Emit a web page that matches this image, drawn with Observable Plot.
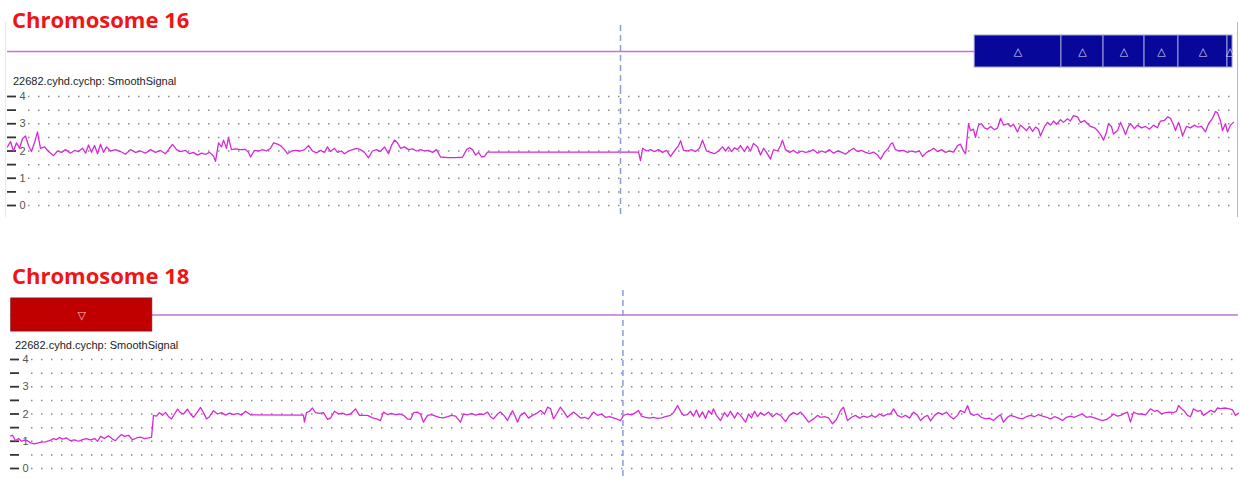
<!DOCTYPE html>
<html><head><meta charset="utf-8">
<script src="https://cdn.jsdelivr.net/npm/d3@7"></script>
<script src="https://cdn.jsdelivr.net/npm/@observablehq/plot@0.6"></script>
<style>
body{margin:0;background:#fff;}
#root{position:relative;width:1240px;height:479px;overflow:hidden;}
.title{position:absolute;left:12px;font:700 22px "Open Sans",sans-serif;line-height:22px;color:#f01414;white-space:nowrap;}
.lab{position:absolute;font:11px "Liberation Sans",Arial,sans-serif;line-height:11px;color:#222;white-space:nowrap;}
.abs{position:absolute;left:0;}
.abs svg{display:block;}
.frame{position:absolute;border-left:1px solid #e8e8e8;border-right:1px solid #b9b9b9;}
</style></head><body><div id="root"></div>
<script>
// ---- data (positions in Mb, SmoothSignal copy number) ----
const titles = ["Chromosome 16", "Chromosome 18"];
const trackLabel = "22682.cyhd.cychp: SmoothSignal";
const gridTicks = [0, 0.5, 1, 1.5, 2, 2.5, 3, 3.5, 4];
const tickLabels = [0, 1, 2, 3, 4];
const chr16Length = 90, chr18Length = 78;
const chr16Centromere = [45.0], chr18Centromere = [38.9];
const chr16GainStart = [71.0, 77.37, 80.46, 83.47, 85.96, 89.56];
const chr16GainEnd   = [77.37, 80.46, 83.47, 85.96, 89.56, 89.93];
const chr18LossStart = [0.05];
const chr18LossEnd   = [9.0];

const chr16Signal = [
[0.00,2.15],[0.22,2.35],[0.44,2.0],[0.66,2.3],[0.88,2.1],[1.10,2.45],[1.32,2.55],[1.54,2.2],[1.76,1.98],[1.98,2.3],
[2.20,2.7],[2.42,2.1],[2.72,2.15],[3.01,1.98],[3.38,1.83],[3.67,2.0],[3.96,1.95],[4.26,2.05],[4.62,1.92],[4.92,2.02],
[5.21,1.98],[5.51,2.1],[5.73,1.92],[5.95,2.22],[6.17,1.95],[6.39,2.2],[6.61,1.9],[6.83,2.25],[7.05,1.95],[7.27,2.15],
[7.56,2.0],[7.93,2.05],[8.30,1.98],[8.66,1.88],[9.03,2.05],[9.40,1.95],[9.76,2.0],[10.13,1.92],[10.50,2.05],[10.86,1.95],
[11.23,2.02],[11.60,1.9],[11.89,2.1],[12.11,2.24],[12.41,2.05],[12.70,1.98],[13.07,2.02],[13.36,1.9],[13.65,1.95],[13.95,1.85],
[14.24,1.92],[14.54,1.88],[14.83,1.95],[15.12,1.82],[15.27,1.62],[15.49,2.3],[15.71,2.15],[15.86,2.4],[16.08,2.1],[16.22,2.5],
[16.44,2.05],[16.74,2.08],[17.10,2.05],[17.47,2.06],[17.69,1.95],[17.84,1.78],[18.13,2.02],[18.43,2.0],[18.72,2.05],[19.01,2.0],
[19.31,2.1],[19.53,2.3],[19.82,2.25],[20.04,2.2],[20.33,2.05],[20.55,1.9],[20.85,2.0],[21.14,2.02],[21.51,2.0],[21.80,2.05],
[22.10,2.2],[22.39,2.0],[22.68,1.93],[22.98,2.02],[23.27,1.95],[23.49,2.15],[23.71,1.98],[24.00,2.1],[24.23,1.95],[24.52,2.0],
[24.74,1.9],[25.03,2.0],[25.33,2.05],[25.62,2.1],[25.91,2.05],[26.21,1.95],[26.50,1.75],[26.79,2.0],[27.09,2.05],[27.38,1.98],
[27.68,2.15],[27.97,1.9],[28.19,2.2],[28.41,2.4],[28.63,2.3],[28.85,2.1],[29.14,2.15],[29.44,2.05],[29.73,2.08],[30.02,2.0],
[30.32,2.05],[30.61,2.0],[30.91,2.02],[31.20,1.95],[31.49,2.05],[31.79,1.78],[32.30,1.76],[32.89,1.76],[33.40,1.77],[33.70,2.05],
[33.92,2.12],[34.14,2.05],[34.36,1.85],[34.58,1.95],[34.80,1.78],[35.02,1.8],[35.24,1.96],
[46.32,1.96],[46.47,1.65],[46.62,2.1],[46.91,2.0],[47.20,2.05],[47.50,1.98],[47.79,2.05],[48.08,1.95],[48.38,2.02],[48.67,1.8],
[48.96,2.0],[49.26,2.2],[49.41,2.38],[49.63,2.02],[49.92,2.0],[50.21,2.05],[50.51,1.98],[50.80,2.1],[51.02,2.4],[51.31,2.0],
[51.61,1.95],[51.90,1.9],[52.19,2.0],[52.49,2.15],[52.71,2.0],[52.93,2.15],[53.15,1.98],[53.37,2.12],[53.59,2.05],[53.81,2.2],
[54.10,1.98],[54.32,2.18],[54.54,2.0],[54.76,2.28],[55.06,2.15],[55.28,1.85],[55.50,2.1],[55.72,1.95],[56.01,1.7],[56.23,2.05],
[56.53,2.0],[56.75,2.2],[56.89,2.4],[57.11,2.05],[57.41,1.95],[57.70,2.02],[57.99,1.92],[58.29,2.0],[58.58,1.95],[58.87,1.98],
[59.17,2.05],[59.46,1.92],[59.76,2.0],[60.05,1.95],[60.34,2.05],[60.64,1.92],[60.93,2.0],[61.22,1.96],[61.52,1.88],[61.81,2.0],
[62.10,2.1],[62.40,1.98],[62.69,2.02],[62.99,1.95],[63.28,1.9],[63.57,1.96],[63.87,1.85],[64.09,1.7],[64.38,1.95],[64.67,2.1],
[64.82,2.25],[64.97,2.3],[65.19,2.05],[65.48,2.0],[65.78,2.02],[66.07,1.95],[66.36,2.0],[66.66,1.96],[66.95,2.0],[67.17,1.8],
[67.46,1.95],[67.76,2.02],[67.98,2.1],[68.27,1.98],[68.56,2.05],[68.86,1.95],[69.15,2.0],[69.45,1.96],[69.74,2.2],[69.96,2.25],
[70.18,2.0],[70.33,1.9],[70.55,3.0],[70.69,2.75],[70.91,2.8],[71.06,2.5],[71.28,2.95],[71.50,3.0],[71.72,2.85],[71.94,2.8],
[72.16,2.9],[72.46,2.78],[72.68,2.85],[72.90,3.2],[73.12,2.95],[73.41,3.0],[73.63,2.9],[73.85,2.98],[74.14,2.7],[74.36,2.95],
[74.58,2.85],[74.80,2.75],[75.03,2.9],[75.25,2.72],[75.47,2.88],[75.69,2.8],[75.83,2.55],[76.13,2.9],[76.35,3.05],[76.57,2.95],
[76.79,3.1],[77.01,2.98],[77.30,3.15],[77.52,3.05],[77.81,3.18],[78.03,3.1],[78.25,3.3],[78.55,3.25],[78.77,3.05],[79.06,3.12],
[79.28,3.0],[79.50,2.9],[79.80,2.85],[80.02,2.75],[80.24,2.6],[80.46,2.4],[80.68,2.7],[80.82,3.0],[81.04,2.9],[81.19,2.62],
[81.49,2.75],[81.71,3.05],[81.93,2.8],[82.07,2.6],[82.29,2.9],[82.44,3.0],[82.73,2.82],[82.95,2.95],[83.25,2.85],[83.54,2.9],
[83.83,2.8],[84.13,2.95],[84.42,2.85],[84.64,3.1],[84.93,3.12],[85.16,3.25],[85.38,3.2],[85.60,2.95],[85.74,2.75],[85.96,3.05],
[86.11,2.85],[86.26,2.55],[86.55,2.9],[86.84,2.85],[87.14,2.95],[87.36,2.88],[87.65,2.9],[87.94,2.7],[88.17,3.0],[88.46,3.2],
[88.68,3.45],[88.83,3.4],[89.05,3.1],[89.19,2.75],[89.41,3.0],[89.56,2.7],[89.78,2.95],[90.00,3.05]
];

const chr18Signal = [
[0.00,1.2],[0.13,1.22],[0.32,1.02],[0.51,1.1],[0.70,1.0],[0.89,1.04],[1.08,1.02],[1.27,0.94],[1.52,0.9],[1.71,0.93],
[1.97,0.97],[2.22,0.98],[2.48,1.02],[2.73,1.1],[2.92,1.06],[3.11,1.14],[3.30,1.08],[3.56,1.12],[3.81,1.02],[4.07,1.05],
[4.32,1.0],[4.57,1.06],[4.83,1.1],[5.08,1.05],[5.34,1.1],[5.53,1.0],[5.72,1.18],[5.97,1.1],[6.22,1.2],[6.48,1.08],
[6.67,1.02],[6.86,1.15],[7.05,1.25],[7.24,1.18],[7.50,1.22],[7.75,1.05],[8.00,1.12],[8.26,1.15],[8.51,1.1],[8.77,1.12],
[8.96,1.15],[9.08,1.95],[9.27,1.92],[9.46,2.05],[9.65,1.95],[9.85,2.06],[10.04,1.9],[10.23,1.82],[10.42,2.0],[10.61,2.18],
[10.80,2.05],[10.99,2.0],[11.24,2.18],[11.43,2.0],[11.62,1.88],[11.88,2.08],[12.07,2.24],[12.26,2.05],[12.45,1.82],[12.64,1.9],
[12.89,2.12],[13.15,2.0],[13.40,2.05],[13.66,1.96],[13.91,2.03],[14.16,1.98],[14.42,2.02],[14.67,1.96],[14.93,2.1],[15.24,1.97],
[18.61,1.96],[18.67,1.7],[18.80,2.05],[18.99,2.1],[19.18,2.22],[19.37,2.05],[19.63,2.02],[19.88,2.05],[20.14,1.8],[20.33,1.85],
[20.58,2.1],[20.83,2.0],[21.09,2.03],[21.34,1.97],[21.60,2.0],[21.91,2.19],[22.17,1.95],[22.42,1.95],[22.68,1.95],[22.99,1.86],
[23.25,1.82],[23.50,1.76],[23.69,2.07],[23.95,1.98],[24.20,2.02],[24.45,1.98],[24.71,2.0],[24.96,1.95],[25.22,1.82],[25.41,1.8],
[25.60,2.05],[25.85,2.07],[26.04,2.0],[26.23,1.7],[26.49,1.95],[26.74,1.98],[27.00,1.92],[27.25,1.88],[27.50,1.86],[27.76,1.9],
[28.01,1.95],[28.27,1.92],[28.58,1.7],[28.77,2.0],[29.03,1.97],[29.29,2.02],[29.54,1.96],[29.79,2.0],[30.04,1.98],[30.30,2.07],
[30.49,1.9],[30.68,1.82],[30.94,2.0],[31.12,2.08],[31.38,1.92],[31.57,1.76],[31.76,2.0],[31.89,2.12],[32.07,1.9],[32.20,1.7],
[32.39,1.95],[32.65,2.05],[32.90,1.85],[33.16,1.95],[33.41,2.02],[33.66,2.13],[33.92,2.0],[34.11,2.25],[34.30,2.2],[34.49,1.82],
[34.68,2.0],[34.93,2.25],[35.13,2.1],[35.38,1.88],[35.57,1.98],[35.76,2.07],[36.01,1.95],[36.21,1.85],[36.46,1.88],[36.71,1.82],
[37.03,2.07],[37.29,1.95],[37.54,2.0],[37.79,1.88],[38.05,1.9],[38.30,1.86],[38.56,1.8],[38.75,1.76],[38.94,1.95],[39.19,2.0],
[39.45,1.97],[39.70,2.05],[39.89,2.13],[40.08,1.92],[40.33,1.88],[40.59,1.85],[40.84,1.88],[41.10,1.84],[41.35,1.86],[41.60,1.9],
[41.92,1.95],[42.11,2.05],[42.37,2.31],[42.56,2.1],[42.75,1.95],[43.00,1.98],[43.19,2.1],[43.38,1.92],[43.57,2.15],[43.76,1.88],
[43.95,2.08],[44.15,1.84],[44.34,2.12],[44.53,2.0],[44.65,2.19],[44.84,1.95],[45.10,1.76],[45.35,2.05],[45.54,1.9],[45.73,2.1],
[45.99,1.85],[46.18,2.05],[46.37,1.95],[46.69,1.7],[46.88,2.0],[47.07,1.86],[47.26,2.1],[47.45,1.9],[47.64,2.05],[47.89,1.95],
[48.15,2.07],[48.40,1.9],[48.65,2.02],[48.91,1.95],[49.23,1.72],[49.48,1.95],[49.73,2.05],[49.99,1.98],[50.18,2.07],[50.37,1.95],
[50.69,1.7],[51.01,1.82],[51.26,1.95],[51.45,1.88],[51.70,1.9],[51.96,1.86],[52.21,1.64],[52.46,1.8],[52.72,2.13],[52.91,2.25],
[53.16,1.76],[53.42,1.88],[53.67,1.95],[53.93,1.85],[54.18,1.92],[54.44,1.88],[54.69,1.95],[54.94,1.88],[55.20,2.0],[55.45,1.92],
[55.71,2.0],[55.90,2.0],[56.09,2.19],[56.34,1.95],[56.59,1.88],[56.85,1.95],[57.10,1.85],[57.36,2.07],[57.61,1.95],[57.80,1.76],
[58.06,1.9],[58.25,1.95],[58.44,1.75],[58.69,1.95],[58.94,2.05],[59.20,1.98],[59.45,2.07],[59.71,1.9],[59.90,1.82],[60.15,1.95],
[60.34,2.13],[60.60,2.05],[60.79,2.31],[60.98,2.0],[61.17,1.95],[61.42,2.0],[61.67,1.88],[61.93,1.82],[62.18,1.85],[62.44,1.76],
[62.69,1.9],[62.88,1.97],[63.07,1.7],[63.33,1.88],[63.52,1.95],[63.77,1.9],[64.03,1.85],[64.28,1.82],[64.53,1.9],[64.79,1.95],
[65.04,1.9],[65.30,1.98],[65.55,1.92],[65.81,1.88],[66.06,1.82],[66.31,1.9],[66.57,1.85],[66.82,1.76],[67.07,1.88],[67.33,1.92],
[67.58,1.88],[67.84,1.95],[68.09,2.0],[68.34,1.88],[68.60,1.9],[68.85,1.86],[69.11,1.8],[69.36,1.76],[69.62,1.8],[69.87,1.9],
[70.06,2.0],[70.31,1.92],[70.51,1.95],[70.76,2.02],[70.95,2.07],[71.14,1.7],[71.33,2.07],[71.59,2.0],[71.84,2.0],[72.09,1.97],
[72.41,2.19],[72.66,2.1],[72.85,2.13],[73.11,2.0],[73.36,2.05],[73.62,2.07],[73.87,2.05],[74.06,2.1],[74.19,2.31],[74.37,2.2],
[74.57,2.1],[74.76,1.95],[74.95,1.9],[75.14,2.19],[75.40,2.1],[75.59,2.13],[75.78,1.95],[76.03,2.05],[76.22,2.13],[76.48,2.07],
[76.67,2.22],[76.86,2.2],[77.12,2.22],[77.37,2.2],[77.62,2.15],[77.81,1.95],[78.00,2.03]
];

// ---- layout ----
const root = document.getElementById("root");
const panels = [
  {title: titles[0], titleTop: 8, len: chr16Length, centro: chr16Centromere, signal: chr16Signal,
   segs: chr16GainStart.map((s, i) => ({start: s, end: chr16GainEnd[i]})),
   ml: 7, mr: 7, trackTop: 25, trackH: 63, band: [10, 42], labelTop: 76, labelLeft: 13,
   sigTop: 88, sigH: 128, yRange: [117, 8],
   fill: "#07079a", stroke: "#a0a0da", glyph: "\u25B3", glyphColor: "#dcdcf6", frame: [5, 22, 1231, 195]},
  {title: titles[1], titleTop: 264, len: chr18Length, centro: chr18Centromere, signal: chr18Signal,
   segs: chr18LossStart.map((s, i) => ({start: s, end: chr18LossEnd[i]})),
   ml: 10, mr: 2, trackTop: 290, trackH: 60, band: [8, 41], labelTop: 340, labelLeft: 15,
   sigTop: 350, sigH: 129, yRange: [118, 9],
   fill: "#c00000", stroke: "#8a1a1a", glyph: "\u25BD", glyphColor: "#f6c6c6", frame: null}
];

const trackLine = "#c274d2";
const sigColor = "#d62ad6";
const centroColor = "#8d9bdb";

for (const p of panels) {
  if (p.frame) {
    const f = document.createElement("div");
    f.className = "frame";
    Object.assign(f.style, {left: p.frame[0] + "px", top: p.frame[1] + "px", width: p.frame[2] + "px", height: p.frame[3] + "px"});
    root.appendChild(f);
  }

  const track = Plot.plot({
    width: 1240, height: p.trackH,
    marginLeft: p.ml, marginRight: p.mr, marginTop: 0, marginBottom: 0,
    style: {background: "transparent", overflow: "visible"},
    x: {domain: [0, p.len], axis: null, label: null},
    y: {type: "band", domain: ["CN"], range: p.band, padding: 0, axis: null, label: null},
    marks: [
      Plot.ruleY(["CN"], {y: d => d, stroke: trackLine, strokeWidth: 1.5}),
      Plot.barX(p.segs, {x1: "start", x2: "end", y: () => "CN", fill: p.fill, stroke: p.stroke, strokeWidth: 1}),
      Plot.text(p.segs, {x: d => (d.start + d.end) / 2, y: () => "CN", text: () => p.glyph,
        fill: p.glyphColor, fontSize: 11, fontFamily: "DejaVu Sans"}),
      Plot.ruleX(p.centro, {x: d => d, stroke: centroColor, strokeWidth: 1.5, strokeDasharray: "6,4"})
    ]
  });
  const tw = document.createElement("div");
  tw.className = "abs"; tw.style.top = p.trackTop + "px";
  tw.appendChild(track); root.appendChild(tw);

  const sig = Plot.plot({
    width: 1240, height: p.sigH,
    marginLeft: p.ml, marginRight: p.mr, marginTop: 0, marginBottom: 0,
    style: {background: "transparent", overflow: "visible"},
    x: {domain: [0, p.len], axis: null, label: null},
    y: {domain: [0, 4], range: p.yRange, label: null},
    marks: [
      Plot.ruleY(gridTicks, {y: d => d, stroke: "#8a8a8a", strokeWidth: 1.5, strokeDasharray: "1.5,8.5", insetLeft: 21}),
      Plot.axisY(gridTicks, {anchor: "left", tickSize: 9, dx: 9, tickFormat: () => "", label: null, stroke: "#333", strokeWidth: 1.8}),
      Plot.text(tickLabels, {y: d => d, text: d => String(d), frameAnchor: "left", textAnchor: "start", dx: 12,
        fontSize: 11, fill: "#555", fontFamily: "Liberation Sans, Arial, sans-serif"}),
      Plot.line(p.signal, {x: d => d[0], y: d => d[1], stroke: sigColor, strokeWidth: 1.3}),
      Plot.ruleX(p.centro, {x: d => d, stroke: centroColor, strokeWidth: 1.5, strokeDasharray: "6,4"})
    ]
  });
  const sw = document.createElement("div");
  sw.className = "abs"; sw.style.top = p.sigTop + "px";
  sw.appendChild(sig); root.appendChild(sw);

  const t = document.createElement("div");
  t.className = "title"; t.style.top = p.titleTop + "px"; t.textContent = p.title;
  root.appendChild(t);

  const l = document.createElement("div");
  l.className = "lab"; l.style.top = p.labelTop + "px"; l.style.left = p.labelLeft + "px";
  l.textContent = trackLabel;
  root.appendChild(l);
}
</script>
</body></html>
